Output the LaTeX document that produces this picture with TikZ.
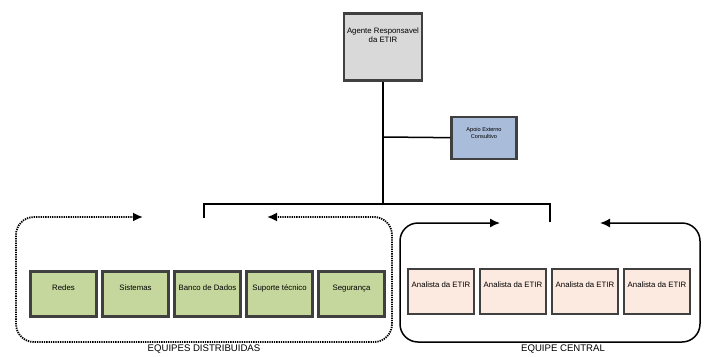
\documentclass[tikz,border=0pt]{standalone}
\usepackage{fontspec}
\setmainfont{Liberation Sans}
\usetikzlibrary{arrows.meta, positioning}

\definecolor{headgray}{HTML}{D9D9D9}
\definecolor{apoioblue}{HTML}{A9BCDA}
\definecolor{teamgreen}{HTML}{C6D79E}
\definecolor{analystpink}{HTML}{FCEAE0}
\definecolor{boxedge}{HTML}{404040}

\tikzset{
    unitbox/.style={draw=boxedge, line width=2.2pt, inner sep=0.5pt,
        minimum width=66pt, minimum height=45pt,
        text height=5.5pt, text depth=13pt,
        font=\fontsize{7.8}{9}\selectfont},
    tree/.style={line width=1.5pt, black},
    region/.style={line width=1.5pt, rounded corners=18pt,
        {Latex[length=10pt, width=9pt]}-{Latex[length=10pt, width=9pt]}},
    regionlabel/.style={font=\fontsize{9.6}{10}\selectfont}
}

\begin{document}
\begin{tikzpicture}[x=1pt, y=-1pt]

    \useasboundingbox (0,0) rectangle (706,356);

    % ============================================================
    % COORDENACAO
    % ============================================================
    \node[unitbox, fill=headgray, minimum width=78pt, minimum height=67pt,
        align=center, text depth=22pt, text height=12pt] (agente) at (383,47)
        {Agente Responsavel\\da ETIR};
    \node[unitbox, fill=apoioblue, minimum width=65pt, minimum height=42pt,
        align=center, text depth=6pt, text height=6pt,
        font=\fontsize{5.6}{7}\selectfont] (apoio) at (484,138)
        {Apoio Externo\\Consultivo};

    \coordinate (juncao) at (383,137);
    \coordinate (barra) at (383,204);
    \coordinate (barraL) at (204,204);
    \coordinate (barraR) at (550,204);
    \coordinate (descL) at (204,218);
    \coordinate (descR) at (550,222);

    \draw[tree] (agente) -- (barra);
    \draw[tree] (juncao) -- (apoio);
    \draw[tree] (descL) -- (barraL) -- (barraR) -- (descR);

    % ============================================================
    % EQUIPES DISTRIBUIDAS
    % ============================================================
    \draw[region, line width=1.8pt, dash pattern=on 1.3pt off 1pt]
        (143,217) -- (16,217) -- (16,342) -- (392,342) -- (392,217) -- (267,217);
    \foreach \name/\txt [count=\i] in {redes/Redes, sistemas/Sistemas,
        banco/Banco de Dados, suporte/Suporte técnico, seguranca/Segurança}
        \node[unitbox, fill=teamgreen] (\name) at ({63.5+72*(\i-1)},294) {\txt};
    \node[regionlabel] (distrib) at (204,349) {EQUIPES DISTRIBUIDAS};

    % ============================================================
    % EQUIPE CENTRAL
    % ============================================================
    \draw[region]
        (500,223) -- (400,223) -- (400,342) -- (700,342) -- (700,223) -- (600,223);
    \foreach \i in {1,...,4}
        \node[unitbox, fill=analystpink] (analista\i) at ({441+72*(\i-1)},291.5)
            {Analista da ETIR};
    \node[regionlabel] (central) at (563,349) {EQUIPE CENTRAL};

\end{tikzpicture}
\end{document}
